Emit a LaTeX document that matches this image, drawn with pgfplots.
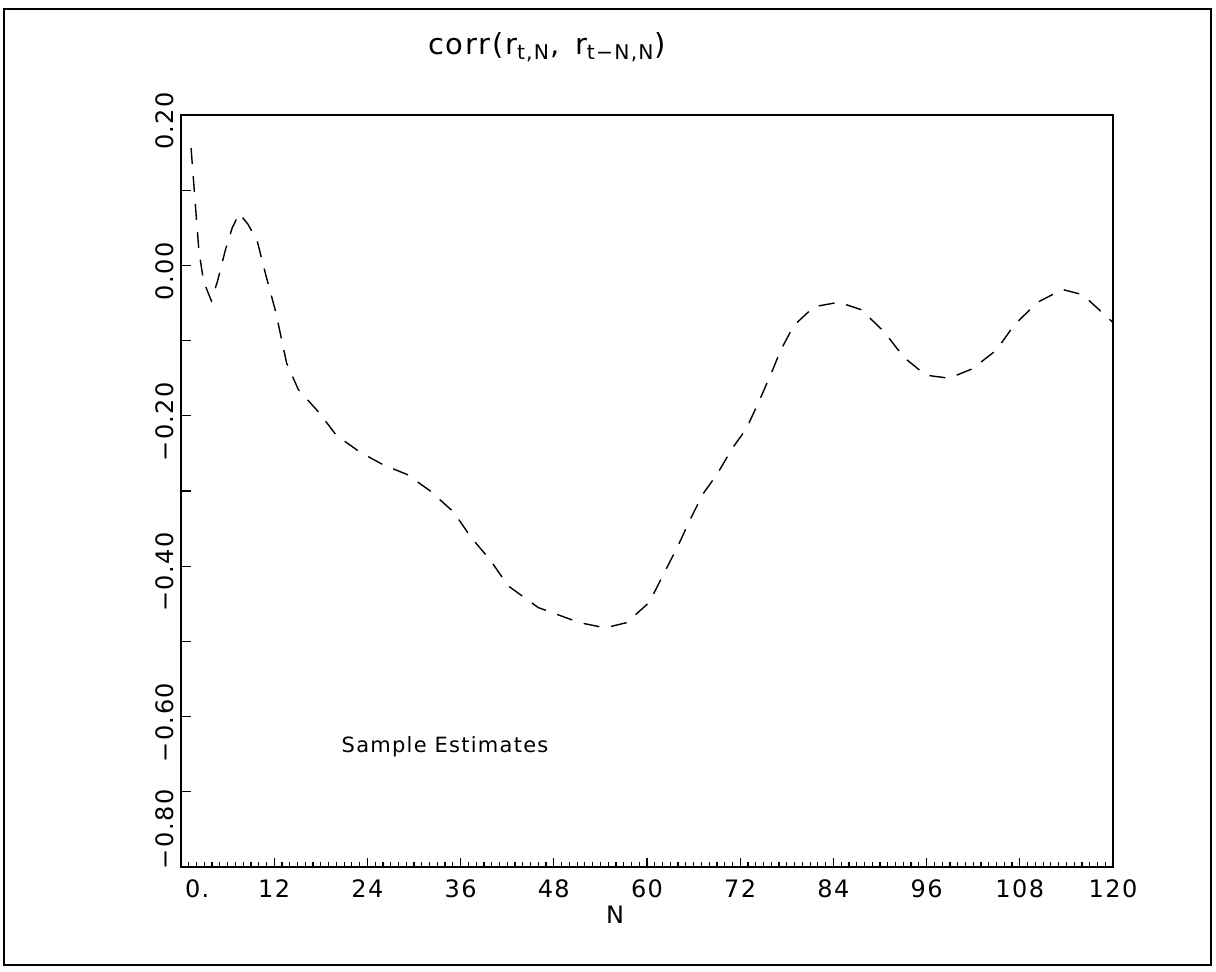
\documentclass[border=0pt]{standalone}
\usepackage{fontspec}
\setmainfont{DejaVu Sans}[LetterSpace=6]
\usepackage{pgfplots}
\pgfplotsset{compat=1.18}
\begin{document}
\begin{tikzpicture}
\begin{scope}[x=0.5pt,y=0.5pt]
\useasboundingbox (0,0) rectangle (1216,971);
\draw[line width=0.9pt] (4,962) rectangle (1211,6);
\node[anchor=base, font=\fontsize{14.5}{16}\selectfont] at (547,916) {corr(r\textsubscript{t,N}, \,r\textsubscript{t−N,N})};
\node[font=\fontsize{12}{14}\selectfont] at (615,56) {N};
\end{scope}
\begin{axis}[
  at={(90.5pt,52pt)}, anchor=south west,
  scale only axis, width=466pt, height=376pt,
  xmin=0, xmax=120, ymin=-0.8, ymax=0.2,
  axis line style={line width=1.1pt},
  tick align=inside, xtick pos=bottom, ytick pos=left,
  xtick={0,12,...,120},
  xticklabels={\makebox[0pt][l]{\,0.},12,24,36,48,60,72,84,96,108,120},
  minor x tick num=11,
  ytick={-0.8,-0.6,-0.4,-0.2,0,0.2},
  yticklabels={\makebox[0pt][l]{\,−0.80},−0.60,−0.40,−0.20,0.00,0.20},
  minor y tick num=1,
  major tick length=4.5pt, minor tick length=2.5pt,
  tick style={line width=0.6pt, black},
  ytick style={/pgfplots/major tick length=5pt,/pgfplots/minor tick length=5pt},
  ticklabel style={font=\fontsize{12}{14}\selectfont},
  xticklabel style={yshift=-3pt},
  yticklabel style={rotate=90, anchor=south, xshift=-3pt},
  clip=false,
]
\addplot[black, line width=0.7pt, dash pattern=on 8pt off 6pt] coordinates {
(1.3,0.156) (1.8,0.087) (2.3,0.02) (2.9,-0.021) (3.9,-0.047) (4.7,-0.021)
(5.7,0.02) (6.6,0.05) (7.5,0.069) (8.6,0.055) (9.8,0.033) (10.9,-0.012)
(12.2,-0.062) (12.9,-0.096) (13.6,-0.130) (15.1,-0.165) (17.8,-0.196)
(20.0,-0.226) (23.0,-0.248) (26.0,-0.265) (29.1,-0.278) (32.1,-0.300)
(35.1,-0.328) (37.3,-0.361) (39.9,-0.393) (42.1,-0.426) (46.0,-0.455)
(51.3,-0.475) (54.6,-0.482) (57.4,-0.475) (60.3,-0.448) (62.3,-0.407)
(63.9,-0.375) (65.6,-0.337) (67.2,-0.304) (69.0,-0.278) (71.0,-0.243)
(72.8,-0.217) (74.5,-0.179) (76.1,-0.141) (77.2,-0.113) (78.9,-0.080)
(81.5,-0.055) (84.7,-0.049) (87.6,-0.059) (90.5,-0.088) (93.1,-0.1225)
(95.9,-0.146) (98.9,-0.150) (101.9,-0.1375) (105.0,-0.1125) (107.3,-0.079)
(110.3,-0.049) (113.5,-0.032) (116.1,-0.039) (120,-0.076)
};
\node[font=\fontsize{10.5}{12}\selectfont] at (axis cs:34,-0.64) {Sample Estimates};
\end{axis}
\end{tikzpicture}
\end{document}
